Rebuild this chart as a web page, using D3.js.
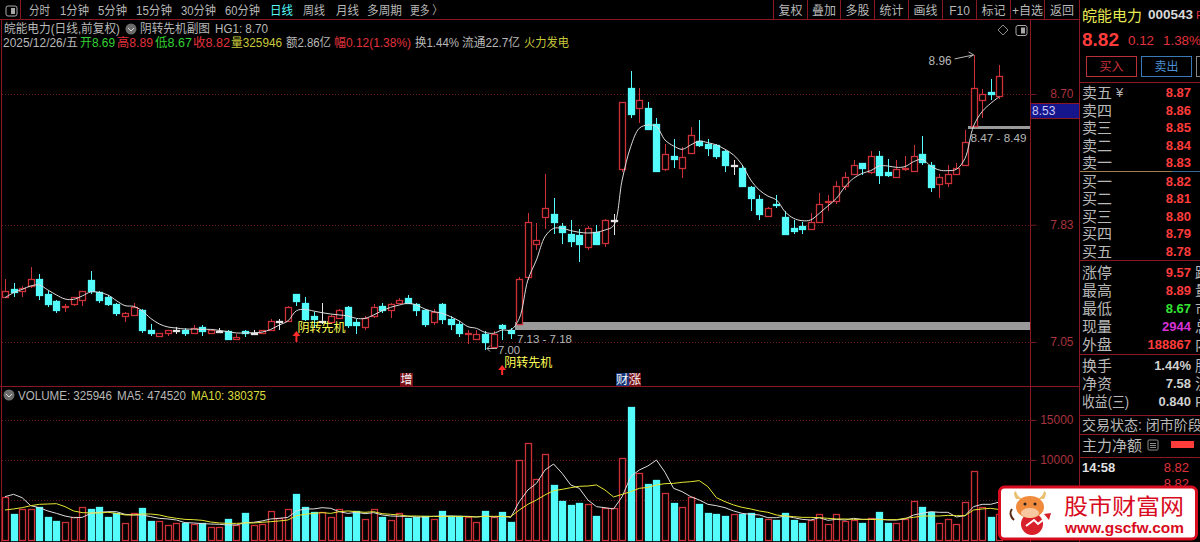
<!DOCTYPE html>
<html>
<head>
<meta charset="utf-8">
<script src="https://cdn.jsdelivr.net/npm/d3@7"></script>
<style>
  html, body { margin: 0; padding: 0; background: #000; overflow: hidden; }
  svg { display: block; }
  text { font-family: "Liberation Sans", "Noto Sans CJK SC", sans-serif; }
</style>
</head>
<body>
<div id="chart"></div>
<script>
// open, high, low, close per trading day
const ohlc = [
  [7.35,7.47,7.34,7.39],[7.40,7.44,7.35,7.38],[7.39,7.42,7.35,7.41],[7.42,7.55,7.41,7.47],[7.47,7.50,7.33,7.36],
  [7.37,7.39,7.28,7.30],[7.32,7.33,7.24,7.26],[7.28,7.30,7.25,7.29],[7.30,7.35,7.29,7.35],[7.33,7.39,7.29,7.39],
  [7.46,7.52,7.37,7.39],[7.38,7.39,7.31,7.33],[7.35,7.36,7.29,7.30],[7.30,7.31,7.22,7.24],[7.22,7.25,7.18,7.24],
  [7.23,7.31,7.22,7.28],[7.26,7.27,7.11,7.13],[7.13,7.17,7.09,7.11],[7.09,7.11,7.08,7.11],[7.11,7.13,7.09,7.13],
  [7.13,7.15,7.10,7.13],[7.13,7.14,7.09,7.11],[7.11,7.16,7.10,7.14],[7.15,7.16,7.09,7.12],[7.11,7.13,7.11,7.13],
  [7.12,7.14,7.12,7.12],[7.12,7.13,7.06,7.07],[7.07,7.10,7.06,7.08],[7.12,7.13,7.08,7.11],[7.11,7.13,7.10,7.11],
  [7.11,7.13,7.10,7.13],[7.13,7.20,7.12,7.19],[7.19,7.20,7.13,7.19],[7.19,7.29,7.19,7.28],[7.37,7.37,7.29,7.32],
  [7.31,7.35,7.19,7.20],[7.22,7.25,7.14,7.20],[7.19,7.31,7.17,7.19],[7.18,7.23,7.17,7.22],[7.21,7.27,7.20,7.26],
  [7.28,7.29,7.14,7.16],[7.18,7.20,7.10,7.16],[7.15,7.22,7.13,7.21],[7.22,7.30,7.21,7.28],[7.29,7.31,7.24,7.26],
  [7.26,7.31,7.21,7.30],[7.31,7.34,7.30,7.33],[7.34,7.36,7.30,7.31],[7.30,7.31,7.22,7.26],[7.26,7.27,7.15,7.17],
  [7.18,7.27,7.16,7.25],[7.30,7.31,7.17,7.20],[7.20,7.22,7.13,7.17],[7.17,7.19,7.08,7.11],[7.10,7.13,7.04,7.11],
  [7.07,7.13,7.06,7.10],[7.10,7.12,7.00,7.05],[7.02,7.12,7.01,7.10],[7.16,7.17,7.06,7.14],[7.13,7.14,7.07,7.11],
  [7.17,7.48,7.17,7.47],[7.48,7.91,7.46,7.85],[7.70,7.84,7.66,7.73],[7.88,8.17,7.80,7.94],[7.90,8.01,7.77,7.85],
  [7.82,7.84,7.70,7.78],[7.77,7.86,7.68,7.72],[7.76,7.80,7.58,7.70],[7.68,7.82,7.66,7.81],[7.78,7.83,7.70,7.70],
  [7.71,7.87,7.68,7.86],[7.86,7.90,7.76,7.86],[8.20,8.65,8.18,8.65],[8.74,8.85,8.54,8.57],[8.61,8.74,8.51,8.66],
  [8.61,8.65,8.46,8.47],[8.50,8.54,8.18,8.19],[8.20,8.37,8.19,8.30],[8.29,8.40,8.21,8.27],[8.21,8.35,8.14,8.28],
  [8.31,8.48,8.31,8.43],[8.39,8.53,8.35,8.36],[8.37,8.40,8.29,8.34],[8.36,8.37,8.27,8.29],[8.32,8.33,8.18,8.23],
  [8.23,8.26,8.16,8.23],[8.21,8.23,8.09,8.09],[8.08,8.09,7.92,8.01],[8.00,8.03,7.86,7.90],[7.89,7.95,7.88,7.94],
  [7.97,8.03,7.94,7.96],[7.88,7.92,7.77,7.77],[7.81,7.86,7.77,7.79],[7.82,7.85,7.77,7.80],[7.80,7.91,7.80,7.85],
  [7.85,8.04,7.85,7.97],[7.98,8.03,7.92,7.99],[7.99,8.12,7.97,8.09],[8.09,8.18,8.06,8.15],[8.17,8.26,8.16,8.23],
  [8.24,8.24,8.16,8.21],[8.18,8.32,8.17,8.29],[8.29,8.32,8.10,8.16],[8.18,8.27,8.15,8.16],[8.15,8.26,8.15,8.20],
  [8.20,8.29,8.19,8.21],[8.19,8.36,8.18,8.29],[8.30,8.42,8.23,8.25],[8.23,8.25,8.05,8.08],[8.10,8.17,8.01,8.15],
  [8.11,8.23,8.08,8.17],[8.17,8.24,8.17,8.21],[8.23,8.46,8.23,8.38],[8.49,8.96,8.49,8.74],[8.66,8.73,8.54,8.70],
  [8.71,8.80,8.66,8.70],[8.69,8.89,8.67,8.82]
];

// smooth line over the candles
const priceLine = [
  7.345,7.378,7.400,7.423,7.429,7.396,7.363,7.336,7.334,7.356,7.383,7.380,7.363,7.325,7.292,7.287,7.258,7.207,7.170,7.150,
  7.143,7.136,7.136,7.134,7.134,7.127,7.119,7.110,7.110,7.112,7.116,7.134,7.163,7.190,7.258,7.267,7.256,7.245,7.236,7.230,
  7.223,7.207,7.207,7.230,7.258,7.281,7.296,7.307,7.296,7.269,7.252,7.241,7.218,7.190,7.152,7.141,7.114,7.108,7.130,7.130,
  7.207,7.462,7.596,7.751,7.806,7.806,7.791,7.780,7.775,7.780,7.795,7.824,8.128,8.350,8.472,8.494,8.483,8.394,8.354,8.332,
  8.361,8.387,8.376,8.361,8.332,8.294,8.228,8.128,8.061,8.021,7.995,7.917,7.873,7.857,7.862,7.906,7.955,8.006,8.083,8.139,
  8.172,8.190,8.221,8.221,8.212,8.217,8.250,8.265,8.221,8.194,8.190,8.199,8.272,8.487,8.583,8.638,8.682
];

// volume, in the units of the lower axis
const volumes = [
  5417,3250,3875,3875,4167,2917,2417,2292,2833,4083,3875,4083,2917,3333,2167,3333,3958,2417,2375,1875,
  2167,2167,2000,2167,1583,1583,2583,1875,3333,1875,2000,3667,2708,3833,5708,4083,3458,3458,2833,3833,
  2917,3667,2583,3833,2917,2500,3333,2708,2833,3000,2583,3625,3042,3000,2833,2292,3625,2833,3542,2292,
  10000,12083,7666,10750,6875,4875,4375,4583,4458,3042,4042,3958,10292,16667,8333,7000,7500,5917,4583,4167,
  5417,4458,3333,3250,3000,3250,3208,3333,2708,2583,2500,3333,2500,2167,2500,3208,2042,3208,2375,2500,
  2167,2708,3458,2167,2167,2583,4917,4083,3542,2167,2583,2000,4792,8667,4167,2917,3259
];
const ma5 = [
  5420,5710,5290,4290,4040,3630,3330,3000,2790,2830,3330,3460,3540,3540,3210,3130,3130,2920,2710,2630,
  2500,2170,2130,2040,2000,1960,1880,1880,2170,2210,2380,2630,2710,2830,3630,3880,3880,4040,3960,3540,
  3330,3460,3290,3420,3130,3000,2960,2960,2880,2880,2960,3000,3000,2960,2960,2880,3000,2880,2960,2830,
  4790,6250,7080,8750,9500,8330,6880,6460,5000,4170,4040,3880,5420,7920,8750,9250,10000,8460,6460,6040,
  5420,5000,4460,4290,4040,3630,3330,3210,3130,2790,2790,3000,2790,2580,2500,2790,2460,2580,2500,2710,
  2580,2580,2630,2500,2500,2630,3130,3330,3540,3460,3460,2880,3040,4170,4460,4460,4745
];
const ma10 = [
  3750,3880,4040,4290,4460,4500,4540,4170,3630,3420,3380,3380,3460,3330,3130,3130,3250,3250,3130,2880,
  2710,2580,2540,2460,2250,2130,2080,2080,2130,2130,2210,2290,2380,2500,3040,3210,3330,3420,3330,3540,
  3630,3540,3460,3540,3290,3210,3130,3000,3000,2960,2960,2920,2960,2960,2920,2880,2960,2960,2960,2920,
  3750,4460,5000,5630,6170,6330,6540,6710,6750,6880,6250,5380,5710,6040,6460,6580,6880,7040,7080,7210,
  7290,7420,6670,5290,4790,4380,4080,3880,3630,3460,3130,3000,2920,2830,2830,2790,2710,2630,2630,2580,
  2580,2580,2540,2540,2540,2710,2830,3000,3000,3000,3080,3040,3040,3750,3880,3960,3804
];

const priceTicks = [7.05, 7.83, 8.70];
const volumeGrid = [5000, 10000, 15000];
const volumeTicks = [10000, 15000];   // the 5000 label sits under the watermark
// support/resistance bands drawn by the indicator: low, high, first day
const bandLows = [7.13, 8.47];
const bandHighs = [7.18, 8.49];
const bandStarts = [59.5, 112.4];

const periodLabels = ["分时","1分钟","5分钟","15分钟","30分钟","60分钟","日线","周线","月线","多周期","更多 〉"];
const toolLabels = ["复权","叠加","多股","统计","画线","F10","标记","+自选","返回"];
const sellNames = ["卖五","卖四","卖三","卖二","卖一"];
const sellPrices = ["8.87","8.86","8.85","8.84","8.83"];
const buyNames = ["买一","买二","买三","买四","买五"];
const buyPrices = ["8.82","8.81","8.80","8.79","8.78"];
const quoteNames = ["涨停","最高","最低","现量","外盘"];
const quoteValues = ["9.57","8.89","8.67","2944","188867"];
const quoteSide = ["跌","量","市","总","内"];
const statNames = ["换手","净资","收益(三)"];
const statValues = ["1.44%","7.58","0.840"];
const statSide = ["股","流","P"];

const width = 1200, height = 542;
const RED = "#cc3038", CYAN = "#54fcfc", FRAME = "#8a1822", GRIDC = "#6e1a22", TICKC = "#a8343e", GRAY = "#b8b8b8";

const svg = d3.select("#chart").append("svg").attr("width", width).attr("height", height);
svg.append("rect").attr("width", width).attr("height", height).attr("fill", "#000");

const x = d3.scaleLinear().domain([0, ohlc.length - 1]).range([5, 999.3]);
const yPrice = d3.scaleLinear().domain([8.70, 7.05]).range([94, 342]);
const yVol = d3.scaleLinear().domain([0, 15000]).range([540, 420]);

function txt(g, px, py, str, color, size, opts) {
  opts = opts || {};
  const t = g.append("text")
    .attr("x", px).attr("y", py)
    .attr("fill", color)
    .attr("font-size", size)
    .attr("dominant-baseline", "central")
    .attr("text-anchor", opts.anchor || "start")
    .text(str);
  if (opts.bold) t.attr("font-weight", "bold");
  if (opts.w) t.attr("textLength", opts.w).attr("lengthAdjust", "spacingAndGlyphs");
  return t;
}

function hline(g, x1, x2, y, color) {
  g.append("line").attr("x1", x1).attr("x2", x2).attr("y1", y).attr("y2", y)
    .attr("stroke", color).attr("shape-rendering", "crispEdges");
}
function vline(g, xx, y1, y2, color) {
  g.append("line").attr("x1", xx).attr("x2", xx).attr("y1", y1).attr("y2", y2)
    .attr("stroke", color).attr("shape-rendering", "crispEdges");
}

/* grid */
const grid = svg.append("g");
priceTicks.forEach(t => {
  const yy = Math.round(yPrice(t)) + 0.5;
  grid.append("line").attr("x1", 2).attr("x2", 1030).attr("y1", yy).attr("y2", yy)
    .attr("stroke", GRIDC).attr("stroke-dasharray", "1,2").attr("shape-rendering", "crispEdges");
});
volumeGrid.forEach(t => {
  const yy = Math.round(yVol(t)) + 0.5;
  grid.append("line").attr("x1", 2).attr("x2", 1030).attr("y1", yy).attr("y2", yy)
    .attr("stroke", GRIDC).attr("stroke-dasharray", "1,2").attr("shape-rendering", "crispEdges");
});

/* axes */
const priceAxis = d3.axisRight(yPrice).tickValues(priceTicks).tickFormat(d3.format(".2f")).tickSize(6);
const volAxis = d3.axisRight(yVol).tickValues(volumeTicks).tickFormat(d3.format("d")).tickSize(6);
[priceAxis, volAxis].forEach(ax => {
  const g = svg.append("g").attr("transform", "translate(1030.5,0)").call(ax);
  g.select(".domain").remove();
  g.selectAll(".tick line").attr("stroke", GRIDC);
  g.selectAll(".tick text").attr("fill", TICKC).attr("font-size", 12)
    .attr("font-family", '"Liberation Sans", sans-serif')
    .attr("text-anchor", "end").attr("x", 43);
});

/* indicator bands */
const bands = svg.append("g");
bandLows.forEach((lo, i) => {
  bands.append("rect")
    .attr("x", x(bandStarts[i])).attr("width", 1030 - x(bandStarts[i]))
    .attr("y", yPrice(bandHighs[i])).attr("height", yPrice(lo) - yPrice(bandHighs[i]))
    .attr("fill", "#9a9a9a").attr("shape-rendering", "crispEdges");
});
txt(svg, x(bandStarts[0]) + 2, yPrice(bandLows[0]) + 9, "7.13 - 7.18", GRAY, 11.5, {w: 55});
txt(svg, x(bandStarts[1]) + 2, yPrice(bandLows[1]) + 9.5, "8.47 - 8.49", GRAY, 11.5, {w: 56});

/* candles */
const candleW = 6;
const colorOf = d => d[3] > d[0] ? RED : d[3] < d[0] ? CYAN : "#e6e6e6";
const candles = svg.append("g");
const candle = candles.selectAll("g").data(ohlc).join("g");
candle.append("line")
  .attr("x1", (d, i) => Math.round(x(i)) + 0.5).attr("x2", (d, i) => Math.round(x(i)) + 0.5)
  .attr("y1", d => yPrice(d[1])).attr("y2", d => yPrice(d[2]))
  .attr("stroke", colorOf)
  .attr("shape-rendering", "crispEdges");
candle.append("rect")
  .attr("x", (d, i) => Math.round(x(i)) - candleW / 2 + 0.5)
  .attr("width", candleW)
  .attr("y", d => Math.round(yPrice(Math.max(d[0], d[3]))) + 0.5)
  .attr("height", d => Math.max(Math.round(yPrice(Math.min(d[0], d[3]))) - Math.round(yPrice(Math.max(d[0], d[3]))), 1))
  .attr("fill", d => d[3] >= d[0] ? (d[3] > d[0] ? "#000" : "#e6e6e6") : CYAN)
  .attr("stroke", colorOf)
  .attr("stroke-width", 1.3);

/* line over candles */
const curve = d3.line().x((d, i) => x(i)).y(d => yPrice(d)).curve(d3.curveCatmullRom);
svg.append("path").attr("d", curve(priceLine))
  .attr("fill", "none").attr("stroke", "#dcdcdc").attr("stroke-width", 1);

/* high and low notes */
const arrows = svg.append("g").attr("stroke", GRAY).attr("fill", "none");
const hiX = x(113), hiY = yPrice(8.96), loX = x(56), loY = yPrice(7.00);
txt(svg, hiX - 45, hiY + 6, "8.96", GRAY, 12, {w: 23});
arrows.append("path").attr("d", `M${hiX - 19},${hiY + 4}L${hiX},${hiY}M${hiX - 5},${hiY - 3}L${hiX},${hiY}L${hiX - 5},${hiY + 3}`);
txt(svg, loX + 13, loY, "7.00", GRAY, 11.5, {w: 22});
arrows.append("path").attr("d", `M${loX + 12},${loY - 1}L${loX + 2},${loY - 1}M${loX + 5},${loY - 4}L${loX + 2},${loY - 1}L${loX + 5},${loY + 2}`);

/* signal arrows */
function upArrow(ax, y1, y2) {
  const g = svg.append("g");
  g.append("line").attr("x1", ax).attr("x2", ax).attr("y1", y1 + 3).attr("y2", y2).attr("stroke", "#ff2a2a").attr("stroke-width", 2);
  g.append("path").attr("d", `M${ax - 4},${y1 + 5}L${ax},${y1}L${ax + 4},${y1 + 5}Z`).attr("fill", "#ff2a2a");
}
upArrow(x(34), 331, 342);
txt(svg, x(34) + 1, 328, "阴转先机", "#ffff55", 12, {w: 48});
upArrow(x(58), 365, 375);
txt(svg, x(58) + 2, 363, "阴转先机", "#ffff55", 12, {w: 48});

/* event tags */
svg.append("rect").attr("x", 400).attr("y", 373).attr("width", 13).attr("height", 13).attr("fill", "#7a1018");
txt(svg, 406.5, 379.5, "增", "#f4f4f4", 12, {anchor: "middle"});
svg.append("rect").attr("x", 616).attr("y", 373).attr("width", 13).attr("height", 13).attr("fill", "#16357a");
svg.append("rect").attr("x", 629).attr("y", 373).attr("width", 12).attr("height", 13).attr("fill", "#7a1018");
txt(svg, 616, 379.5, "财涨", "#f4f4f4", 12, {w: 25});

/* volume */
const volG = svg.append("g");
volG.selectAll("rect").data(volumes).join("rect")
  .attr("x", (d, i) => Math.round(x(i)) - candleW / 2 + 0.5)
  .attr("width", candleW)
  .attr("y", d => Math.round(yVol(d)) + 0.5)
  .attr("height", d => 540 - Math.round(yVol(d)))
  .attr("fill", (d, i) => ohlc[i][3] >= ohlc[i][0] ? "#000" : CYAN)
  .attr("stroke", (d, i) => ohlc[i][3] >= ohlc[i][0] ? RED : CYAN)
  .attr("stroke-width", 1.3);
const volLine = d3.line().x((d, i) => x(i)).y(d => yVol(d));
svg.append("path").attr("d", volLine(ma5)).attr("fill", "none").attr("stroke", "#dcdcdc").attr("stroke-width", 1);
svg.append("path").attr("d", volLine(ma10)).attr("fill", "none").attr("stroke", "#e6e632").attr("stroke-width", 1);

/* frame */
const frame = svg.append("g");
hline(frame, 0, 1080, 19.5, FRAME);
hline(frame, 0, 1030, 386.5, FRAME);
hline(frame, 1030, 1080, 386.5, FRAME);
vline(frame, 1.5, 20, 542, FRAME);
vline(frame, 20.5, 0, 20, FRAME);
vline(frame, 1030.5, 20, 542, FRAME);
vline(frame, 1079.5, 0, 542, FRAME);

/* top toolbars */
const bar = svg.append("g");
bar.append("rect").attr("x", 6).attr("y", 6).attr("width", 11).attr("height", 10).attr("rx", 2)
  .attr("fill", "none").attr("stroke", "#a8a8a8");
bar.append("rect").attr("x", 11).attr("y", 8).attr("width", 4).attr("height", 6).attr("fill", "#a8a8a8");
const periodX = [29, 60, 98, 136, 181, 225, 270, 303, 336, 367, 410];
const periodW = [21, 29, 29, 36, 35, 35, 23, 22, 23, 35, 32];
periodLabels.forEach((s, i) => {
  txt(bar, periodX[i], 11, s, s === "日线" ? "#54fcfc" : GRAY, 12, {w: periodW[i]});
});
const toolEdges = [773.5, 807.5, 840.5, 874.5, 908.5, 942.5, 976.5, 1010.5, 1044.5, 1079.5];
toolEdges.forEach(e => vline(bar, e, 0, 20, FRAME));
toolLabels.forEach((s, i) => {
  txt(bar, (toolEdges[i] + toolEdges[i + 1]) / 2, 10.5, s, GRAY, 12, {anchor: "middle"});
});

/* chart header */
const head = svg.append("g");
txt(head, 4, 29, "皖能电力(日线,前复权)", GRAY, 12, {w: 116});
head.append("circle").attr("cx", 131).attr("cy", 29).attr("r", 5.5).attr("fill", "#6c6c6c");
head.append("path").attr("d", "M128,28L131,31L134,28").attr("fill", "none").attr("stroke", "#d8d8d8");
txt(head, 140, 29, "阴转先机副图", GRAY, 12, {w: 70});
txt(head, 215, 29, "HG1: 8.70", GRAY, 12, {w: 53});

const infoRow = [
  ["2025/12/26/五", GRAY, 3, 75],
  ["开8.69", "#32d232", 80, 35],
  ["高8.89", "#e0323c", 117, 36],
  ["低8.67", "#32d232", 155, 37],
  ["收8.82", "#e0323c", 193, 37],
  ["量325946", "#c8c83c", 231, 51],
  ["额2.86亿", GRAY, 286, 45],
  ["幅0.12(1.38%)", "#e0323c", 334, 77],
  ["换1.44%", GRAY, 415, 44],
  ["流通22.7亿", GRAY, 462, 58],
  ["火力发电", "#c8c83c", 524, 45]
];
infoRow.forEach(r => txt(head, r[2], 42.5, r[0], r[1], 12, {w: r[3]}));

// corner marks of the price panel
head.append("path").attr("d", "M1003,25L1008,30L1003,35L998,30Z").attr("fill", "none").attr("stroke", "#8c8c8c");
head.append("rect").attr("x", 1016).attr("y", 25.5).attr("width", 11).attr("height", 10).attr("rx", 2)
  .attr("fill", "none").attr("stroke", "#a8a8a8");
head.append("rect").attr("x", 1021).attr("y", 27.5).attr("width", 4).attr("height", 6).attr("fill", "#a8a8a8");

/* last price tag */
svg.append("rect").attr("x", 1030.5).attr("y", 103.5).attr("width", 49).attr("height", 15)
  .attr("fill", "#16168c").attr("stroke", FRAME);
txt(svg, 1032, 111, "8.53", "#c8c8f8", 12);

/* volume header */
head.append("circle").attr("cx", 9).attr("cy", 395).attr("r", 5.5).attr("fill", "#6c6c6c");
head.append("path").attr("d", "M6,394L9,397L12,394").attr("fill", "none").attr("stroke", "#d8d8d8");
txt(head, 18, 395.5, "VOLUME: 325946", GRAY, 12, {w: 94});
txt(head, 117, 395.5, "MA5: 474520", GRAY, 12, {w: 69});
txt(head, 191, 395.5, "MA10: 380375", "#dcdc3c", 12, {w: 75});

/* quote panel */
const side = svg.append("g");
txt(side, 1082, 15, "皖能电力", "#e8e850", 15, {w: 60});
txt(side, 1148, 15, "000543", "#d8d8d8", 12, {bold: true, w: 45});
txt(side, 1196, 15, "R", "#e0323c", 11);
txt(side, 1082, 40, "8.82", "#ff3c3c", 18, {bold: true, w: 37});
txt(side, 1128, 40.5, "0.12", "#e0323c", 13, {w: 26});
txt(side, 1163, 40.5, "1.38%", "#e0323c", 13, {w: 38});
side.append("rect").attr("x", 1086.5).attr("y", 56.5).attr("width", 50).attr("height", 20)
  .attr("fill", "none").attr("stroke", "#b83038");
txt(side, 1111.5, 67, "买入", "#c8323c", 12, {anchor: "middle"});
side.append("rect").attr("x", 1141.5).attr("y", 56.5).attr("width", 50).attr("height", 20)
  .attr("fill", "none").attr("stroke", "#3a7ab8");
txt(side, 1166.5, 67, "卖出", "#4a90d0", 12, {anchor: "middle"});
side.append("rect").attr("x", 1196.5).attr("y", 56.5).attr("width", 8).attr("height", 20)
  .attr("fill", "none").attr("stroke", "#888");

hline(side, 1080, 1200, 82.5, FRAME);
const sellY = [92, 110, 127, 145, 162];
sellNames.forEach((s, i) => {
  txt(side, 1082, sellY[i], s, GRAY, 15);
  txt(side, 1191, sellY[i], sellPrices[i], "#ff3c3c", 13, {anchor: "end", bold: true});
});
txt(side, 1116, 92, "¥", GRAY, 13);
hline(side, 1080, 1172, 171.5, "#a08050");
hline(side, 1172, 1200, 171.5, "#3a6a9a");
const buyY = [181, 198, 216, 233, 251];
buyNames.forEach((s, i) => {
  txt(side, 1082, buyY[i], s, GRAY, 15);
  txt(side, 1191, buyY[i], buyPrices[i], "#ff3c3c", 13, {anchor: "end", bold: true});
});
hline(side, 1080, 1200, 260.5, FRAME);

const quoteY = [272, 290, 308, 326, 344];
const quoteColors = ["#ff3c3c", "#ff3c3c", "#32e632", "#d832d8", "#ff3c3c"];
quoteNames.forEach((s, i) => {
  txt(side, 1082, quoteY[i], s, GRAY, 15);
  txt(side, 1191, quoteY[i], quoteValues[i], quoteColors[i], 13, {anchor: "end", bold: true});
  txt(side, 1195, quoteY[i], quoteSide[i], GRAY, 15);
});
hline(side, 1080, 1200, 354.5, FRAME);
const statY = [365, 383, 401];
statNames.forEach((s, i) => {
  txt(side, 1082, statY[i], s, GRAY, 15, {w: i === 2 ? 47 : 30});
  txt(side, 1191, statY[i], statValues[i], "#d0d0d0", 13, {anchor: "end", bold: true});
  txt(side, 1195, statY[i], statSide[i], GRAY, 15);
});
hline(side, 1080, 1200, 415.5, FRAME);
txt(side, 1082, 425, "交易状态: 闭市阶段", GRAY, 14);
hline(side, 1080, 1200, 434.5, FRAME);
txt(side, 1082, 445, "主力净额", GRAY, 15);
side.append("rect").attr("x", 1148).attr("y", 440).attr("width", 10).attr("height", 10).attr("rx", 1)
  .attr("fill", "none").attr("stroke", "#8c8c8c");
[443, 445, 447].forEach(yy => hline(side, 1150, 1156, yy + 0.5, "#8c8c8c"));
side.append("rect").attr("x", 1171).attr("y", 441).attr("width", 23).attr("height", 7).attr("fill", "#ff3c3c");
hline(side, 1080, 1200, 457.5, FRAME);
txt(side, 1082, 467, "14:58", "#e0e0e0", 13, {bold: true});
txt(side, 1189, 467, "8.82", "#e0323c", 13, {anchor: "end"});
txt(side, 1189, 483, "8.82", "#e0323c", 13, {anchor: "end"});

/* watermark */
const logo = svg.append("g");
logo.append("rect").attr("x", 999.5).attr("y", 487).attr("width", 197).attr("height", 52).attr("rx", 5)
  .attr("fill", "#fff").attr("stroke", "#d80c1e").attr("stroke-width", 3);
logo.append("path").attr("d", "M1016,499Q1012,492 1016,491Q1017,497 1023,499Z").attr("fill", "#e8c070");
logo.append("path").attr("d", "M1044,499Q1048,492 1044,491Q1043,497 1037,499Z").attr("fill", "#e8c070");
logo.append("path").attr("d", "M1014,520Q1008,514 1012,509").attr("fill", "none").attr("stroke", "#5a2a10").attr("stroke-width", 2);
logo.append("circle").attr("cx", 1032).attr("cy", 524).attr("r", 11).attr("fill", "#d8202a");
logo.append("ellipse").attr("cx", 1030).attr("cy", 507).attr("rx", 14).attr("ry", 11).attr("fill", "#f08a3c");
logo.append("ellipse").attr("cx", 1030).attr("cy", 513).attr("rx", 9).attr("ry", 5).attr("fill", "#f8c8a0");
logo.append("circle").attr("cx", 1025).attr("cy", 504).attr("r", 1.5).attr("fill", "#222");
logo.append("circle").attr("cx", 1035).attr("cy", 504).attr("r", 1.5).attr("fill", "#222");
logo.append("path").attr("d", "M1026,526L1034,520L1038,524L1048,516").attr("fill", "none").attr("stroke", "#fff").attr("stroke-width", 2);
logo.append("path").attr("d", "M1044,514L1051,513L1049,520Z").attr("fill", "#d8202a");
txt(logo, 1064, 506, "股市财富网", "#d80c1e", 22, {w: 120});
txt(logo, 1065, 527.5, "www.gscfw.com", "#d80c1e", 14, {bold: true, w: 119});
</script>
</body>
</html>
